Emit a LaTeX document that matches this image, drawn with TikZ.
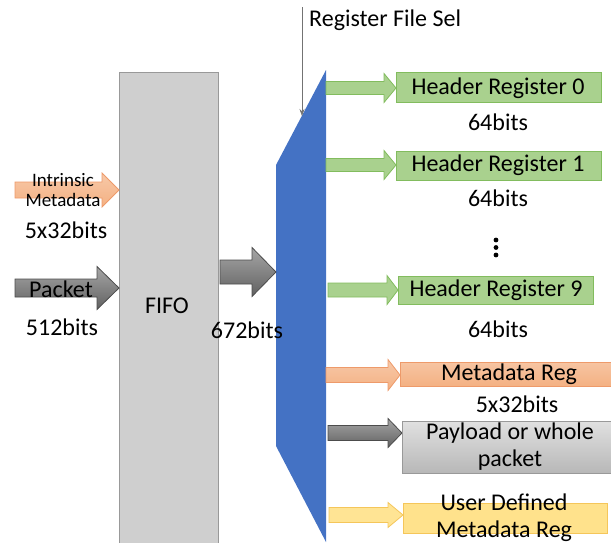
\documentclass[tikz,border=0pt]{standalone}
\usepackage{fontspec}
\setmainfont{Carlito}
\usetikzlibrary{arrows.meta}
\definecolor{muxblue}{HTML}{4472C4}
\definecolor{grfill}{HTML}{A9D18E}
\definecolor{grline}{HTML}{82BC5E}
\definecolor{orfill}{HTML}{F4B183}
\definecolor{orline}{HTML}{EE9A6A}
\definecolor{yefill}{HTML}{FFD966}
\definecolor{yeline}{HTML}{F5C65A}
\tikzset{
  % block arrow: shaft start at pic origin; args = head start, tip, shaft half height, head half height
  pics/barrow/.style n args={4}{code={
    \path[pic actions] (0,-#3) -- (#1,-#3) -- (#1,-#4) -- (#2,0) -- (#1,#4) -- (#1,#3) -- (0,#3) -- cycle;
  }},
  txt/.style={font=\fontsize{24}{27}\selectfont, inner sep=0pt},
  small/.style={font=\fontsize{19}{21}\selectfont, inner sep=0pt, align=center},
  greenarrow/.style={fill=grfill, draw=grline, line width=0.8pt},
  orangearrow/.style={top color=orfill!70, bottom color=orfill, draw=orline, line width=0.8pt},
  grayarrow/.style={top color=black!35, bottom color=black!62, draw=black!70, line width=0.8pt},
  yellowarrow/.style={fill=yefill!70, draw=yeline, line width=0.8pt},
  greenbox/.style={fill=grfill, draw=grline, line width=0.8pt},
}
\begin{document}
\begin{tikzpicture}[x=1pt,y=-1pt]
\useasboundingbox (0,0) rectangle (611,542);

% FIFO
\draw[fill=black!19, draw=black!40, line width=0.6pt] (119,72) rectangle (218,545);
\node[txt] (fifo) at (167,306) {FIFO};

% multiplexer
\fill[muxblue] (326,70) -- (326,542) -- (276,446) -- (276,165) -- cycle;

% register select
\coordinate (selTop) at (302,7);
\coordinate (selEnd) at (302,116);
\draw[black!55, line width=0.6pt, -{Stealth[length=7pt,width=5pt]}] (selTop) -- (selEnd);
\node[txt, anchor=west] (sel) at (309,20) {Register File Sel};

% inputs
\pic[orangearrow] at (15,190) {barrow={87}{104}{8}{17}};
\node[small] (intr) at (63,190) {Intrinsic\\[-1pt]Metadata};
\node[txt] (intrbits) at (66,230) {5x32bits};

\pic[grayarrow] at (15,288) {barrow={82}{104}{9}{21.5}};
\node[txt] (pkt) at (61,289) {Packet};
\node[txt] (pktbits) at (62,327) {512bits};

\pic[grayarrow] at (220,272) {barrow={32}{56}{12}{24.5}};
\node[txt] (midbits) at (247,330) {672bits};

% header registers
\pic[greenarrow] at (326,88) {barrow={58}{70}{6.5}{14.5}};
\draw[greenbox] (396,72) rectangle (601,102);
\node[txt] (hr0) at (498,88) {Header Register 0};
\node[txt] (hr0b) at (498,122) {64bits};

\pic[greenarrow] at (326,165) {barrow={58}{70}{6.5}{14.5}};
\draw[greenbox] (396,151) rectangle (601,180);
\node[txt] (hr1) at (498,165) {Header Register 1};
\node[txt] (hr1b) at (498,198) {64bits};

\foreach \yy in {240,247.5,255} \fill (496,\yy) circle (2.4pt);

\pic[greenarrow] at (328,290) {barrow={59}{70}{7}{14.5}};
\draw[greenbox] (398,276) rectangle (593,304);
\node[txt] (hr9) at (496,290) {Header Register 9};
\node[txt] (hr9b) at (498,329) {64bits};

% metadata register
\pic[orangearrow] at (326,375) {barrow={62}{74}{7.5}{15.5}};
\draw[top color=orfill!75, bottom color=orfill, draw=orline, line width=0.8pt] (400,362) rectangle (613,386);
\node[txt] (meta) at (509,374) {Metadata Reg};
\node[txt] (metab) at (517,404) {5x32bits};

% payload register
\pic[grayarrow] at (328,433) {barrow={60}{74}{7.5}{14.5}};
\draw[top color=black!12, bottom color=black!28, draw=black!40, line width=0.8pt] (402,421) rectangle (613,473);
\node[txt, align=center] (pay) at (510,447) {Payload or whole\\packet};

% user defined register
\pic[yellowarrow] at (329,515) {barrow={59}{74}{7.5}{12.5}};
\draw[fill=yefill!75, draw=yeline, line width=0.8pt] (403,503) rectangle (607,533);
\node[txt, align=center] (user) at (504,518) {User Defined\\Metadata Reg};
\end{tikzpicture}
\end{document}
